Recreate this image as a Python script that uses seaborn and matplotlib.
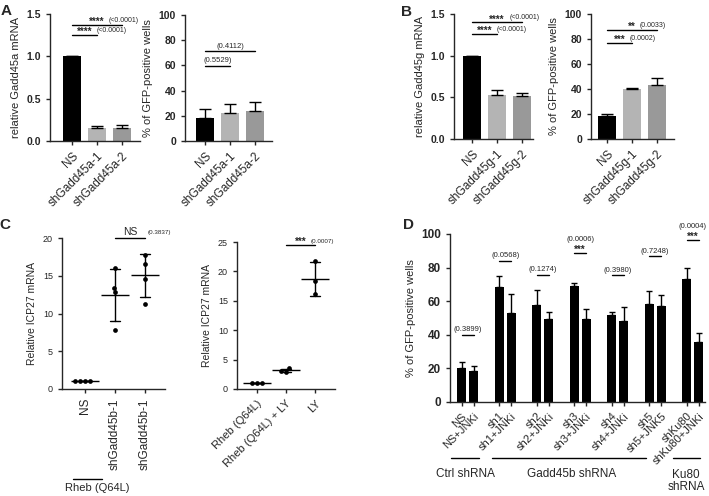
import numpy as np
import pandas as pd
import seaborn as sns
import matplotlib
matplotlib.use("Agg")
import matplotlib.pyplot as plt
from matplotlib.lines import Line2D

# ---- data -------------------------------------------------------------
a_labels = ["NS", "shGadd45a-1", "shGadd45a-2"]
a_mrna = [1.0, 0.15, 0.15]
a_mrna_sd = [0.0, 0.03, 0.04]
a_gfp = [18.0, 22.0, 23.8]
a_gfp_sd = [7.4, 7.4, 7.4]

b_labels = ["NS", "shGadd45g-1", "shGadd45g-2"]
b_mrna = [1.0, 0.53, 0.52]
b_mrna_sd = [0.0, 0.056, 0.03]
b_gfp = [18.1, 39.9, 43.0]
b_gfp_sd = [2.1, 1.0, 6.2]

c1_labels = ["NS", "shGadd45b-1", "shGadd45b-1"]
c1_ns = [1.0, 1.0, 1.0, 1.0]
c1_sh1 = [16.0, 12.8, 13.4, 7.8]
c1_sh2 = [17.8, 16.6, 14.6, 11.3]

c2_labels = ["Rheb (Q64L)", "Rheb (Q64L) + LY", "LY"]
c2_rheb = [1.0, 1.0, 1.0]
c2_rheb_ly = [3.5, 3.1, 2.9]
c2_ly = [21.8, 18.3, 16.1]

d_groups = ["NS", "sh1", "sh2", "sh3", "sh4", "sh5", "shKu80"]
d_labels = ["NS", "NS+JNKi", "sh1", "sh1+JNKi", "sh2", "sh2+JNKi", "sh3", "sh3+JNKi",
            "sh4", "sh4+JNKi", "sh5", "sh5+JNK5", "shKu80", "shKu80+JNKi"]
d_ctrl = [20.4, 68.2, 57.9, 68.8, 51.7, 58.4, 73.0]
d_ctrl_sd = [3.3, 6.6, 8.7, 1.8, 2.0, 7.8, 6.7]
d_jnki = [18.4, 52.7, 49.5, 49.5, 48.3, 56.9, 35.8]
d_jnki_sd = [3.2, 11.5, 3.8, 5.8, 8.2, 6.5, 5.0]
d_sig_y = [40, 84, 75.7, 88.7, 75.3, 86.9, 96.6]
d_sig_stars = ["", "", "", "***", "", "", "***"]
d_sig_p = ["(0.3899)", "(0.0568)", "(0.1274)", "(0.0006)", "(0.3980)", "(0.7248)", "(0.0004)"]

bar_colors = ["black", "#b4b4b4", "#999999"]

# ---- style ------------------------------------------------------------
sns.set_style("ticks")
plt.rcParams["font.family"] = ["Liberation Sans", "DejaVu Sans"]
plt.rcParams["axes.linewidth"] = 1.0
plt.rcParams["xtick.major.width"] = 1.0
plt.rcParams["ytick.major.width"] = 1.0
plt.rcParams["xtick.major.size"] = 3
plt.rcParams["ytick.major.size"] = 3

W, H = 709, 496
fig = plt.figure(figsize=(W / 100, H / 100), dpi=100)


def px_axes(x0, y0, x1, y1):
    return fig.add_axes([x0 / W, 1 - y1 / H, (x1 - x0) / W, (y1 - y0) / H])


def fig_line(x0, x1, y):
    fig.add_artist(Line2D([x0 / W, x1 / W], [1 - y / H, 1 - y / H], color="k", lw=1))


def fig_text(x, y, s, **kw):
    fig.text(x / W, 1 - y / H, s, **kw)


def sig(ax, x1, x2, y, stars, p, pfs=5, sfs=7, p_above=False):
    ax.plot([x1, x2], [y, y], color="k", lw=1, clip_on=False)
    xc = (x1 + x2) / 2
    if stars:
        ax.annotate(stars, (xc, y), xytext=(0, -1.5), textcoords="offset points",
                    ha="center", va="bottom", fontsize=sfs, fontweight="bold",
                    annotation_clip=False)
    if p_above or not stars:
        off = (0, 7) if stars else (0, 1)
        ax.annotate(p, (xc, y), xytext=off, textcoords="offset points",
                    ha="center", va="bottom", fontsize=pfs, annotation_clip=False)
    else:
        ax.annotate(p, (xc, y), xytext=(len(stars) * 1.7 + 2, 1), textcoords="offset points",
                    ha="left", va="bottom", fontsize=pfs, annotation_clip=False)


def bar_panel(ax, labels, vals, sds, ylim, ticks, ylabel, xlim, width):
    df = pd.DataFrame({"cond": labels, "val": vals})
    sns.barplot(data=df, x="cond", y="val", hue="cond", palette=bar_colors,
                legend=False, width=width, ax=ax, saturation=1, linewidth=0)
    ax.errorbar(np.arange(len(vals)), vals, yerr=[np.zeros(len(vals)), sds],
                fmt="none", ecolor="k", elinewidth=1, capsize=4, capthick=1, zorder=5)
    ax.set_ylim(*ylim)
    ax.set_yticks(ticks)
    ax.set_xlim(*xlim)
    ax.set_xlabel("")
    ax.set_ylabel(ylabel, fontsize=8)
    ax.set_xticks(range(len(labels)))
    ax.set_xticklabels(labels, rotation=45, ha="right", rotation_mode="anchor", fontsize=8.5)
    for t in ax.get_yticklabels():
        t.set_fontweight("bold")
        t.set_fontsize(7.5)
    sns.despine(ax=ax)


# ---- panel A ----------------------------------------------------------
axA1 = px_axes(50, 14, 140, 141)
bar_panel(axA1, a_labels, a_mrna, a_mrna_sd, (0, 1.5), [0, 0.5, 1.0, 1.5],
          "relative Gadd45a mRNA", (-0.88, 2.73), 0.72)
sig(axA1, 0, 2, 1.37, "****", "(<0.0001)")
sig(axA1, 0, 1, 1.25, "****", "(<0.0001)")

axA2 = px_axes(185, 15, 272, 141)
bar_panel(axA2, a_labels, a_gfp, a_gfp_sd, (0, 100), [0, 20, 40, 60, 80, 100],
          "% of GFP-positive wells", (-0.79, 2.68), 0.7)
sig(axA2, 0, 2, 71.2, "", "(0.4112)", pfs=5.5)
sig(axA2, 0, 1, 59.8, "", "(0.5529)", pfs=5.5)

# ---- panel B ----------------------------------------------------------
axB1 = px_axes(454, 14, 533, 139)
bar_panel(axB1, b_labels, b_mrna, b_mrna_sd, (0, 1.5), [0, 0.5, 1.0, 1.5],
          "relative Gadd45g mRNA", (-0.72, 2.44), 0.72)
sig(axB1, 0, 2, 1.40, "****", "(<0.0001)")
sig(axB1, 0, 1, 1.26, "****", "(<0.0001)")

axB2 = px_axes(591, 14, 674, 139)
bar_panel(axB2, b_labels, b_gfp, b_gfp_sd, (0, 100), [0, 20, 40, 60, 80, 100],
          "% of GFP-positive wells", (-0.64, 2.68), 0.72)
sig(axB2, 0, 2, 87.2, "**", "(0.0033)")
sig(axB2, 0, 1, 76.6, "***", "(0.0002)")


# ---- panel C ----------------------------------------------------------
def dot_panel(ax, groups, labels, ylim, ticks, xlim):
    df = pd.DataFrame({"cond": np.repeat(np.arange(len(groups)), [len(g) for g in groups]),
                       "val": np.concatenate(groups)})
    sns.swarmplot(data=df, x="cond", y="val", color="k", size=3.4, ax=ax, zorder=3)
    sns.pointplot(data=df, x="cond", y="val", errorbar="sd", color="k", capsize=0.33,
                  linestyle="none", marker="_", markersize=20, markeredgewidth=1,
                  err_kws={"linewidth": 1}, ax=ax)
    ax.set_ylim(*ylim)
    ax.set_yticks(ticks)
    ax.set_xlim(*xlim)
    ax.set_xlabel("")
    ax.set_ylabel("Relative ICP27 mRNA", fontsize=7.5)
    ax.set_xticks(range(len(labels)))
    ax.tick_params(axis="y", labelsize=6.5)
    sns.despine(ax=ax)


axC1 = px_axes(62, 238, 165, 389)
dot_panel(axC1, [c1_ns, c1_sh1, c1_sh2], c1_labels, (0, 20), [0, 5, 10, 15, 20], (-0.77, 2.67))
axC1.set_xticklabels(c1_labels, rotation=90, fontsize=8.5)
sig(axC1, 1, 2, 20, "", "")
axC1.annotate("NS", (1.5, 20), xytext=(0, 1), textcoords="offset points", ha="center",
              va="bottom", fontsize=7.5, annotation_clip=False)
axC1.annotate("(0.3837)", (2.0, 20), xytext=(2, 2), textcoords="offset points", ha="left",
              va="bottom", fontsize=4.5, annotation_clip=False)

axC2 = px_axes(237, 242, 335, 389)
dot_panel(axC2, [c2_rheb, c2_rheb_ly, c2_ly], c2_labels, (0, 25), [0, 5, 10, 15, 20, 25], (-0.69, 2.69))
axC2.set_xticklabels(c2_labels, rotation=45, ha="right", rotation_mode="anchor", fontsize=8)
sig(axC2, 1, 2, 24.5, "***", "(0.0007)", pfs=4.5)

fig_line(73, 102, 479)
fig_text(97, 488, "Rheb (Q64L)", ha="center", va="center", fontsize=8)

# ---- panel D ----------------------------------------------------------
axD = px_axes(450, 234, 705, 402)
dfD = pd.DataFrame({"group": d_groups * 2,
                    "treat": ["ctrl"] * len(d_groups) + ["jnki"] * len(d_groups),
                    "val": d_ctrl + d_jnki})
sns.barplot(data=dfD, x="group", y="val", hue="treat", palette=["black", "black"],
            width=0.64, gap=0.25, legend=False, saturation=1, linewidth=0, ax=axD)
bars = sorted(axD.patches, key=lambda p: p.get_x())
centers = np.array([p.get_x() + p.get_width() / 2 for p in bars])
d_vals = np.ravel(np.column_stack([d_ctrl, d_jnki]))
d_sds = np.ravel(np.column_stack([d_ctrl_sd, d_jnki_sd]))
axD.errorbar(centers, d_vals, yerr=[np.zeros(len(d_vals)), d_sds], fmt="none",
             ecolor="k", elinewidth=1, capsize=2.5, capthick=1, zorder=5)
axD.set_ylim(0, 100)
axD.set_yticks([0, 20, 40, 60, 80, 100])
axD.set_xlim(-0.47, 6.33)
axD.set_xticks(centers)
axD.set_xticklabels(d_labels, rotation=45, ha="right", rotation_mode="anchor", fontsize=8)
axD.set_xlabel("")
axD.set_ylabel("% of GFP-positive wells", fontsize=8)
for t in axD.get_yticklabels():
    t.set_fontweight("bold")
    t.set_fontsize(8.5)
sns.despine(ax=axD)
for i in range(len(d_groups)):
    sig(axD, centers[2 * i], centers[2 * i + 1], d_sig_y[i], d_sig_stars[i], d_sig_p[i],
        pfs=5.5, p_above=True)

fig_line(451, 479, 458)
fig_line(492, 646, 458)
fig_line(673, 700, 458)
fig_text(465, 474, "Ctrl shRNA", ha="center", va="center", fontsize=8.5)
fig_text(572, 474, "Gadd45b shRNA", ha="center", va="center", fontsize=8.5)
fig_text(686, 481, "Ku80\nshRNA", ha="center", va="center", fontsize=8.5, linespacing=1.1)

# ---- panel letters ----------------------------------------------------
for s, (x, y) in {"A": (6, 11), "B": (407, 12), "C": (5, 225), "D": (408, 225)}.items():
    fig_text(x, y, s, ha="center", va="center", fontsize=11, fontweight="bold")

fig.savefig("out.png", dpi=100)
